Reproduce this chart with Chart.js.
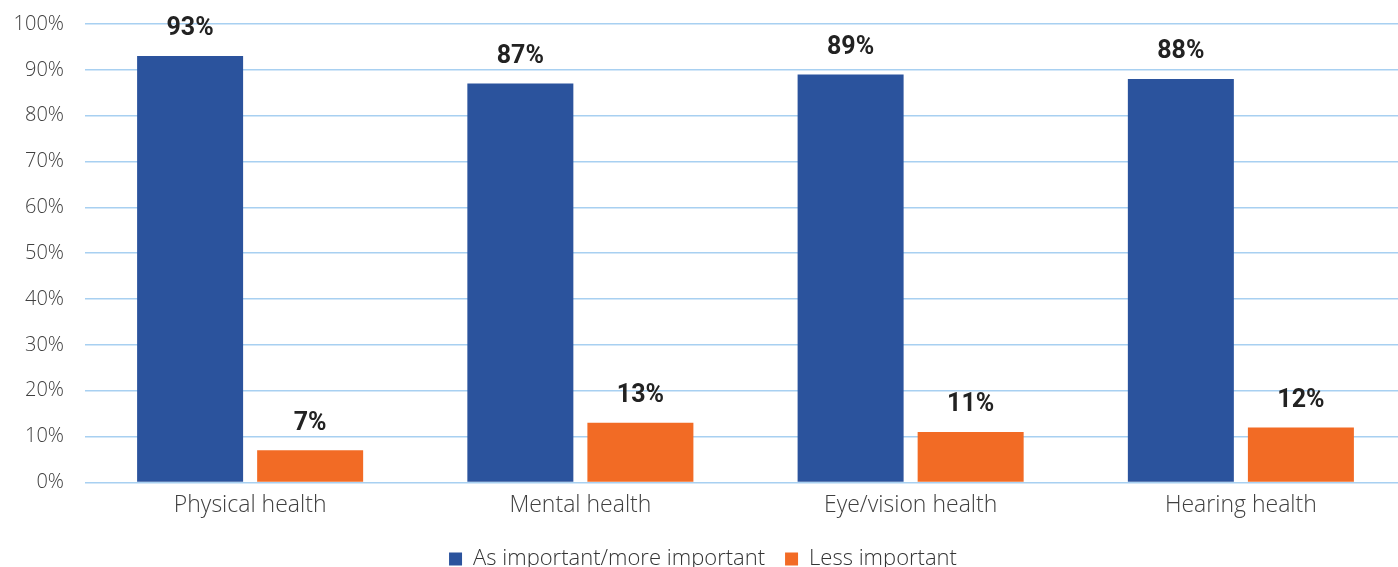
<!DOCTYPE html>
<html>
<head>
<meta charset="utf-8">
<script src="https://cdn.jsdelivr.net/npm/chart.js@4"></script>
<style>
  html, body { margin:0; padding:0; background:#fff; overflow:hidden; }
  #wrap { width:1406px; height:580px; position:relative; }
</style>
</head>
<body>
<div id="wrap"><canvas id="c"></canvas></div>
<script>
// values
const categories = ['Physical health', 'Mental health', 'Eye/vision health', 'Hearing health'];
const moreImportant = [93, 87, 89, 88];
const lessImportant = [7, 13, 11, 12];
const seriesNames = ['As important/more important', 'Less important'];
const yTicks = [0, 10, 20, 30, 40, 50, 60, 70, 80, 90, 100];

const BLUE = '#2b539d';
const ORANGE = '#f26b25';
const FONT = '"Open Sans", Roboto, sans-serif';
const BOLD_FONT = 'Roboto, "Liberation Sans", sans-serif';

// bold value labels above each bar
const valueLabels = {
  id: 'valueLabels',
  afterDatasetsDraw(chart) {
    const ctx = chart.ctx;
    ctx.save();
    ctx.font = 'bold 25px ' + BOLD_FONT;
    ctx.fillStyle = '#222';
    ctx.textAlign = 'center';
    ctx.textBaseline = 'middle';
    chart.data.datasets.forEach((ds, i) => {
      chart.getDatasetMeta(i).data.forEach((bar, j) => {
        ctx.fillText(ds.data[j] + '%', bar.x, bar.y - 27);
      });
    });
    ctx.restore();
  }
};

new Chart(document.getElementById('c'), {
  type: 'bar',
  data: {
    labels: categories,
    datasets: [
      { label: seriesNames[0], data: moreImportant, backgroundColor: BLUE },
      { label: seriesNames[1], data: lessImportant, backgroundColor: ORANGE }
    ]
  },
  options: {
    responsive: true,
    maintainAspectRatio: false,
    animation: false,
    categoryPercentage: 0.727,
    barPercentage: 0.883,
    layout: { padding: { top: 24, left: 0, right: 0, bottom: 0 } },
    plugins: {
      legend: {
        position: 'bottom',
        labels: {
          font: { family: FONT, size: 22, weight: 300 },
          color: '#333',
          boxWidth: 13,
          boxHeight: 13,
          padding: 20
        }
      },
      tooltip: { enabled: false }
    },
    scales: {
      x: {
        grid: { display: false, drawTicks: false },
        border: { display: false },
        ticks: { font: { family: FONT, size: 23, weight: 300 }, color: '#404040', padding: 9 }
      },
      y: {
        min: 0, max: 100,
        afterBuildTicks(scale) { scale.ticks = yTicks.map(v => ({ value: v })); },
        afterFit(scale) { scale.width = 85; scale.paddingTop = 0; scale.paddingBottom = 0; },
        border: { display: false },
        grid: { color: '#a8d0f1', lineWidth: 1.5, drawTicks: false },
        ticks: {
          font: { family: FONT, size: 20, weight: 300 },
          color: '#404040',
          padding: 21,
          callback: v => v + '%'
        }
      }
    }
  },
  plugins: [valueLabels]
});
</script>
</body>
</html>
